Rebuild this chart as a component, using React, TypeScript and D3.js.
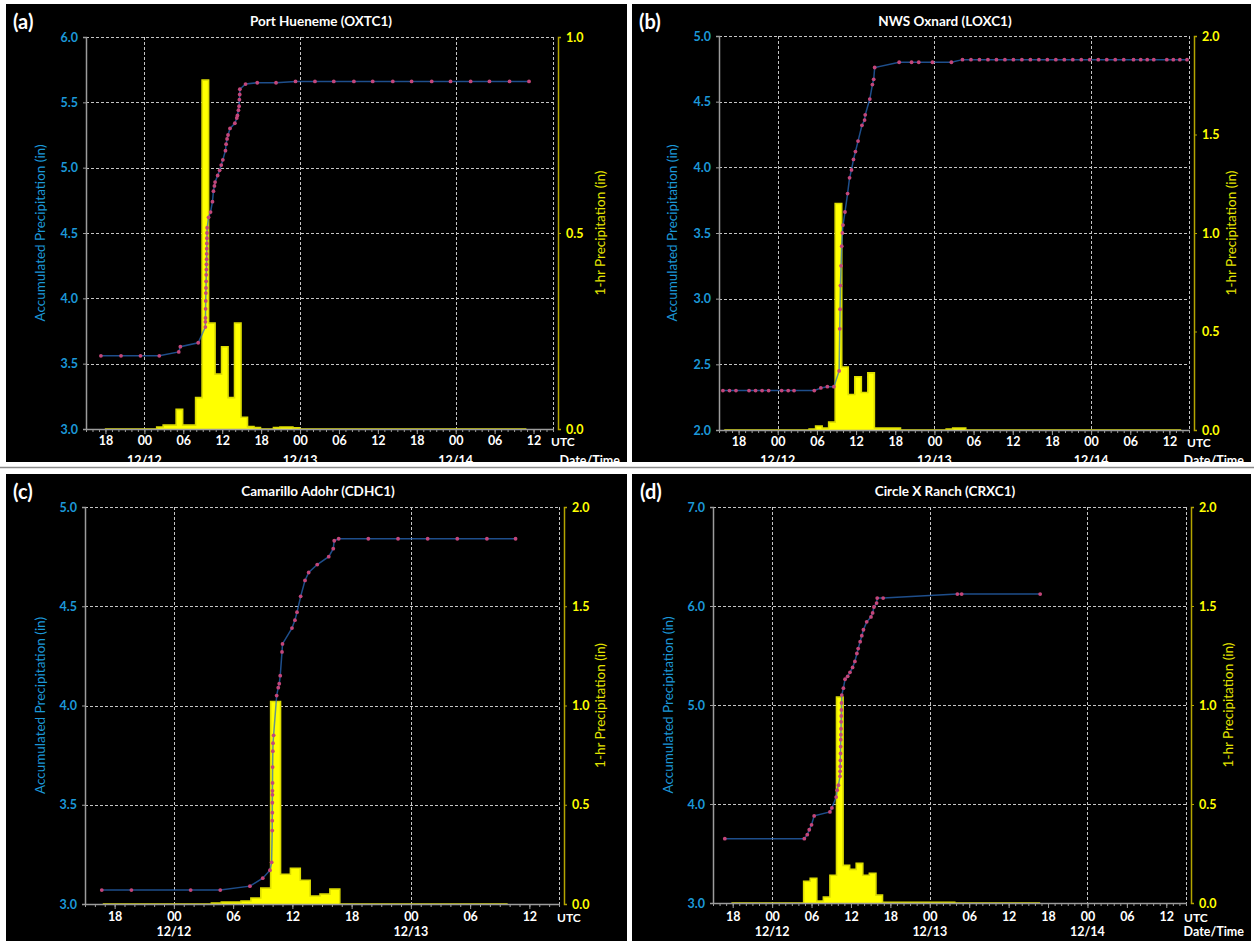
import React, { useEffect, useRef } from 'react';
import * as d3 from 'd3';

const W = 1254;
const H = 943;
const FONT = 'Lato, "Open Sans", sans-serif';
const BLUE = '#1c98d8';
const YELLOW = '#ffff00';

// all times are hours from 12/12 00 UTC
const T0 = Date.UTC(2014, 11, 12, 0, 0);
const at = (h: number) => new Date(T0 + h * 3600 * 1000);

// ---- (a) Port Hueneme (OXTC1)
const oxtcAcc: [number, number][] = [
  [-6.7, 3.56], [-3.6, 3.56], [-0.6, 3.56], [2.3, 3.56], [5.3, 3.59], [5.55, 3.63], [8.3, 3.66],
  [9.4, 3.78], [9.41, 3.82], [9.42, 3.85], [9.44, 3.92], [9.46, 3.98], [9.48, 4.04], [9.5, 4.08],
  [9.52, 4.13], [9.54, 4.18], [9.56, 4.22], [9.58, 4.26], [9.6, 4.3], [9.61, 4.34], [9.62, 4.38],
  [9.64, 4.42], [9.65, 4.46], [9.66, 4.5], [9.68, 4.54], [9.9, 4.62], [10.2, 4.66], [10.5, 4.74],
  [10.65, 4.82], [10.8, 4.86], [10.9, 4.89], [11.3, 4.94], [11.6, 4.98], [11.85, 5.02], [12.1, 5.06],
  [12.5, 5.13], [12.6, 5.18], [12.75, 5.22], [12.9, 5.25], [13.2, 5.3], [13.95, 5.34], [14.25, 5.38],
  [14.35, 5.4], [14.5, 5.44], [14.6, 5.47], [14.65, 5.52], [14.7, 5.56], [14.72, 5.6], [15.6, 5.64],
  [17.4, 5.65], [20.3, 5.65], [23.3, 5.66], [26.3, 5.66], [29.2, 5.66], [32.3, 5.66], [35.2, 5.66],
  [38.3, 5.66], [41.2, 5.66], [44.3, 5.66], [47.2, 5.66], [50.3, 5.66], [53.2, 5.66], [56.3, 5.66],
  [59.3, 5.66],
];
const oxtcHrStart = -6.1;
const oxtcHourly = [
  0, 0, 0, 0, 0, 0, 0, 0,
  0.005, 0.01, 0.01, 0.05, 0.01, 0.01, 0.08, 0.89, 0.27, 0.14, 0.21, 0.08, 0.27, 0.03, 0.006, 0.004,
  0, 0, 0.004, 0.005, 0.005, 0.003,
  0, 0, 0, 0, 0, 0, 0, 0, 0, 0, 0, 0, 0, 0, 0, 0, 0, 0, 0, 0, 0, 0, 0, 0, 0, 0, 0, 0, 0, 0, 0, 0, 0, 0, 0,
];
const oxtcAccTicks = [3.0, 3.5, 4.0, 4.5, 5.0, 5.5, 6.0];
const oxtcHrTicks = [0.0, 0.5, 1.0];

// ---- (b) NWS Oxnard (LOXC1)
const loxcAcc: [number, number][] = [
  [-8.4, 2.3], [-7.4, 2.3], [-6.4, 2.3], [-4.4, 2.3], [-3.4, 2.3], [-2.4, 2.3], [-1.4, 2.3],
  [0.6, 2.3], [1.6, 2.3], [2.5, 2.3], [5.6, 2.3], [6.6, 2.32], [7.6, 2.33], [8.6, 2.33], [9.4, 2.45],
  [9.5, 2.77], [9.55, 2.92], [9.6, 3.1], [9.7, 3.25], [9.8, 3.4], [9.9, 3.5], [10.0, 3.56],
  [10.3, 3.66], [10.7, 3.8], [11.0, 3.92], [11.3, 3.98], [11.6, 4.06], [11.9, 4.12], [12.3, 4.2],
  [12.9, 4.32], [13.3, 4.36], [13.4, 4.4], [14.1, 4.52], [14.5, 4.63], [14.7, 4.67], [14.85, 4.76],
  [18.6, 4.8], [20.5, 4.8], [21.6, 4.8], [23.7, 4.8], [26.6, 4.8], [28.3, 4.82], [29.6, 4.82],
  [30.9, 4.82], [32.2, 4.82], [33.5, 4.82], [34.8, 4.82], [36.1, 4.82], [37.4, 4.82], [38.7, 4.82],
  [40.0, 4.82], [41.3, 4.82], [42.6, 4.82], [43.9, 4.82], [45.2, 4.82], [46.5, 4.82], [47.8, 4.82],
  [49.1, 4.82], [50.4, 4.82], [51.7, 4.82], [53.0, 4.82], [54.5, 4.82], [55.6, 4.82], [56.6, 4.82],
  [57.6, 4.82], [59.6, 4.82], [60.6, 4.82], [61.6, 4.82], [62.7, 4.82],
];
const loxcHrStart = -8.2;
const loxcHourly = [
  0, 0, 0, 0, 0, 0, 0, 0, 0, 0, 0, 0, 0,
  0.005, 0.02, 0.01, 0.04, 1.15, 0.32, 0.18, 0.27, 0.19, 0.29, 0.01, 0.01, 0.01, 0.01,
  0, 0, 0, 0, 0, 0, 0,
  0.005, 0.01, 0.01,
  0, 0, 0, 0, 0, 0, 0, 0, 0, 0, 0, 0, 0, 0, 0, 0, 0, 0, 0, 0, 0, 0, 0, 0, 0, 0, 0, 0, 0, 0, 0, 0, 0,
];
const loxcAccTicks = [2.0, 2.5, 3.0, 3.5, 4.0, 4.5, 5.0];
const loxcHrTicks = [0.0, 0.5, 1.0, 1.5, 2.0];

// ---- (c) Camarillo Adohr (CDHC1)
const cdhcAcc: [number, number][] = [
  [-7.3, 3.07], [-4.3, 3.07], [1.7, 3.07], [4.7, 3.07], [7.7, 3.09], [9.0, 3.13], [9.73, 3.17],
  [9.9, 3.21], [9.96, 3.37], [9.96, 3.42], [9.97, 3.46], [9.97, 3.51], [9.98, 3.55], [9.98, 3.57],
  [9.99, 3.61], [10.0, 3.69], [10.02, 3.77], [10.04, 3.81], [10.1, 3.85], [10.41, 4.05],
  [10.57, 4.09], [10.67, 4.11], [10.77, 4.15], [10.95, 4.27], [11.0, 4.31], [11.96, 4.39],
  [12.26, 4.43], [12.47, 4.47], [12.84, 4.55], [13.28, 4.63], [13.65, 4.67], [14.52, 4.71],
  [15.68, 4.75], [16.14, 4.79], [16.24, 4.83], [16.69, 4.84], [19.69, 4.84], [22.7, 4.84],
  [25.7, 4.84], [28.7, 4.84], [31.7, 4.84], [34.6, 4.84],
];
const cdhcHrStart = -7.2;
const cdhcHourly = [
  0, 0, 0, 0, 0, 0, 0, 0, 0, 0, 0,
  0.005, 0.01, 0.01, 0.015, 0.03, 0.08, 1.02, 0.15, 0.18, 0.12, 0.04, 0.05, 0.075,
  0, 0, 0, 0, 0, 0, 0, 0, 0, 0, 0, 0, 0, 0, 0, 0, 0,
];
const cdhcAccTicks = [3.0, 3.5, 4.0, 4.5, 5.0];
const cdhcHrTicks = [0.0, 0.5, 1.0, 1.5, 2.0];

// ---- (d) Circle X Ranch (CRXC1)
const crxcAcc: [number, number][] = [
  [-7.2, 3.65], [4.9, 3.65], [5.35, 3.69], [5.65, 3.74], [6.0, 3.79], [6.4, 3.88], [8.8, 3.92],
  [9.1, 3.96], [9.75, 4.07], [9.9, 4.14], [10.1, 4.19], [10.33, 4.28], [10.35, 4.33], [10.37, 4.38],
  [10.39, 4.44], [10.41, 4.51], [10.43, 4.58], [10.45, 4.65], [10.47, 4.7], [10.49, 4.76],
  [10.51, 4.83], [10.53, 4.89], [10.55, 4.95], [10.57, 5.02], [10.6, 5.1], [10.85, 5.17],
  [11.1, 5.26], [11.5, 5.29], [11.85, 5.33], [12.25, 5.38], [12.6, 5.44], [12.9, 5.52],
  [13.1, 5.57], [13.4, 5.64], [13.65, 5.7], [13.9, 5.76], [14.4, 5.84], [15.05, 5.89], [15.3, 5.93],
  [15.5, 5.99], [15.9, 6.03], [16.0, 6.08], [16.9, 6.08], [28.2, 6.12], [28.85, 6.12], [40.8, 6.12],
];
const crxcHrStart = -6.2;
const crxcHourly = [
  0, 0, 0, 0, 0, 0, 0, 0, 0, 0, 0,
  0.11, 0.125, 0.01, 0.03, 0.14, 1.04, 0.19, 0.17, 0.2, 0.14, 0.15, 0.04,
  0.003, 0.003, 0.003, 0.003, 0.003, 0.003, 0.003, 0.003, 0.003, 0.003, 0.003,
  0, 0, 0, 0, 0, 0, 0, 0, 0, 0, 0, 0, 0,
];
const crxcAccTicks = [3.0, 4.0, 5.0, 6.0, 7.0];
const crxcHrTicks = [0.0, 0.5, 1.0, 1.5, 2.0];

const panels = [
  {
    letter: '(a)', title: 'Port Hueneme (OXTC1)', acc: oxtcAcc, hrStart: oxtcHrStart, hourly: oxtcHourly,
    accTicks: oxtcAccTicks, hrTicks: oxtcHrTicks, span: [-9, 63],
    box: [6, 4, 621, 458], plot: { l: 86, r: 553, t: 37, b: 429 },
    letterPos: [13, 21], titlePos: [321, 21], leftTitleX: 40, rightTitleX: 600,
    tickY: 440, dateY: 460, dateTime: true,
  },
  {
    letter: '(b)', title: 'NWS Oxnard (LOXC1)', acc: loxcAcc, hrStart: loxcHrStart, hourly: loxcHourly,
    accTicks: loxcAccTicks, hrTicks: loxcHrTicks, span: [-9, 63],
    box: [632, 4, 619, 458], plot: { l: 719, r: 1189, t: 36, b: 430 },
    letterPos: [639, 21], titlePos: [945, 21], leftTitleX: 672, rightTitleX: 1231,
    tickY: 441, dateY: 460, dateTime: true,
  },
  {
    letter: '(c)', title: 'Camarillo Adohr (CDHC1)', acc: cdhcAcc, hrStart: cdhcHrStart, hourly: cdhcHourly,
    accTicks: cdhcAccTicks, hrTicks: cdhcHrTicks, span: [-9, 39],
    box: [6, 474, 621, 467], plot: { l: 85, r: 559, t: 507, b: 904 },
    letterPos: [13, 491], titlePos: [318, 491], leftTitleX: 40, rightTitleX: 600,
    tickY: 916, dateY: 931, dateTime: false,
  },
  {
    letter: '(d)', title: 'Circle X Ranch (CRXC1)', acc: crxcAcc, hrStart: crxcHrStart, hourly: crxcHourly,
    accTicks: crxcAccTicks, hrTicks: crxcHrTicks, span: [-9, 63],
    box: [632, 474, 619, 467], plot: { l: 713, r: 1186, t: 507, b: 903 },
    letterPos: [640, 491], titlePos: [945, 491], leftTitleX: 668, rightTitleX: 1228,
    tickY: 916, dateY: 931, dateTime: true,
  },
];

function styleText(sel: any, fill: string, size: number, bold = true) {
  sel
    .attr('fill', fill)
    .style('font-family', FONT)
    .style('font-size', `${size}px`)
    .style('font-weight', bold ? 'bold' : 'normal');
}

function drawPanel(svg: any, p: any) {
  const { l, r, t, b } = p.plot;
  const g = svg.append('g');
  g.append('rect')
    .attr('x', p.box[0]).attr('y', p.box[1])
    .attr('width', p.box[2]).attr('height', p.box[3])
    .attr('fill', '#000');

  const x = d3.scaleUtc().domain([at(p.span[0]), at(p.span[1])]).range([l, r]);
  const yA = d3.scaleLinear().domain([p.accTicks[0], p.accTicks[p.accTicks.length - 1]]).range([b, t]);
  const yH = d3.scaleLinear().domain([p.hrTicks[0], p.hrTicks[p.hrTicks.length - 1]]).range([b, t]);
  const days = x.ticks(d3.utcDay.every(1));

  // dashed grid
  const grid = g.append('g')
    .attr('stroke', '#c4c4c4').attr('stroke-width', 1).attr('stroke-dasharray', '3,2').attr('fill', 'none');
  grid.selectAll('line.h').data(p.accTicks.slice(1)).join('line')
    .attr('class', 'h')
    .attr('x1', l).attr('x2', r)
    .attr('y1', (d: number) => Math.round(yA(d)) + 0.5).attr('y2', (d: number) => Math.round(yA(d)) + 0.5);
  grid.selectAll('line.v').data([...days.map((d) => x(d)), r]).join('line')
    .attr('class', 'v')
    .attr('x1', (d: number) => Math.round(d) + 0.5).attr('x2', (d: number) => Math.round(d) + 0.5)
    .attr('y1', t).attr('y2', b);

  // 1-hr precipitation as a step fill
  const steps: [number, number][] = p.hourly.map((v: number, i: number) => [p.hrStart + i, v]);
  steps.push([p.hrStart + p.hourly.length, p.hourly[p.hourly.length - 1]]);
  const area = d3.area<[number, number]>()
    .x((d) => x(at(d[0])))
    .y0(b)
    .y1((d) => yH(d[1]))
    .curve(d3.curveStepAfter);
  g.append('path').datum(steps).attr('d', area).attr('fill', YELLOW);
  const stepLine = d3.line<[number, number]>()
    .x((d) => x(at(d[0])))
    .y((d) => yH(d[1]))
    .curve(d3.curveStepAfter);
  g.append('path').datum(steps).attr('d', stepLine)
    .attr('fill', 'none').attr('stroke', '#dcdc00').attr('stroke-width', 1.6);

  // axes
  const axL = g.append('g').attr('transform', `translate(${l},0)`)
    .call(d3.axisLeft(yA).tickValues(p.accTicks).tickFormat(d3.format('.1f')).tickSize(3).tickPadding(5));
  axL.select('.domain').attr('stroke', '#9c9c9c').attr('stroke-width', 1.5);
  axL.selectAll('.tick line').attr('stroke', '#9c9c9c');
  styleText(axL.selectAll('text'), BLUE, 12.5);

  const axR = g.append('g').attr('transform', `translate(${r + 5},0)`)
    .call(d3.axisRight(yH).tickValues(p.hrTicks).tickFormat(d3.format('.1f')).tickSize(3).tickPadding(5));
  axR.select('.domain').attr('stroke', '#b4a500').attr('stroke-width', 1.5);
  axR.selectAll('.tick line').attr('stroke', '#b4a500');
  styleText(axR.selectAll('text'), YELLOW, 12.5);

  const axMinor = g.append('g').attr('transform', `translate(0,${b})`)
    .call(d3.axisBottom(x).ticks(d3.utcHour.every(1)).tickSize(3).tickSizeOuter(0).tickFormat(() => ''));
  axMinor.select('.domain').attr('stroke', '#9c9c9c').attr('stroke-width', 1.5);
  axMinor.selectAll('.tick line').attr('stroke', '#9c9c9c');

  const pad = p.tickY - b - 4.3 - 5;
  const axMajor = g.append('g').attr('transform', `translate(0,${b})`)
    .call(d3.axisBottom(x).ticks(d3.utcHour.every(6)).tickSize(5).tickPadding(pad).tickFormat(d3.utcFormat('%H')));
  axMajor.select('.domain').remove();
  axMajor.selectAll('.tick line').attr('stroke', '#9c9c9c');
  styleText(axMajor.selectAll('text'), '#fff', 12.5);

  const dates = g.selectAll('text.date').data(days).join('text')
    .attr('class', 'date')
    .attr('x', (d: Date) => x(d)).attr('y', p.dateY)
    .attr('text-anchor', 'middle').attr('dominant-baseline', 'central')
    .text((d: Date) => d3.utcFormat('%m/%d')(d));
  styleText(dates, '#fff', 12.5);

  styleText(
    g.append('text').attr('x', r - 2).attr('y', p.tickY + 1.5).attr('dominant-baseline', 'central').text('UTC'),
    '#fff', 12,
  );
  if (p.dateTime) {
    styleText(
      g.append('text').attr('x', p.box[0] + p.box[2] - 7).attr('y', p.dateY)
        .attr('text-anchor', 'end').attr('dominant-baseline', 'central').text('Date/Time'),
      '#fff', 12.5,
    );
  }

  // axis titles
  const cy = (t + b) / 2;
  styleText(
    g.append('text').attr('transform', `translate(${p.leftTitleX},${cy}) rotate(-90)`)
      .attr('text-anchor', 'middle').attr('dominant-baseline', 'central')
      .text('Accumulated Precipitation (in)'),
    BLUE, 13.5, false,
  );
  styleText(
    g.append('text').attr('transform', `translate(${p.rightTitleX},${cy}) rotate(-90)`)
      .attr('text-anchor', 'middle').attr('dominant-baseline', 'central')
      .text('1-hr Precipitation (in)'),
    '#e4e400', 13.5, false,
  );

  // accumulated precipitation
  const line = d3.line<[number, number]>()
    .x((d) => x(at(d[0])))
    .y((d) => yA(d[1]));
  g.append('path').datum(p.acc).attr('d', line)
    .attr('fill', 'none').attr('stroke', '#2a6cc0').attr('stroke-opacity', 0.72).attr('stroke-width', 1.5);
  g.selectAll('circle.pt').data(p.acc).join('circle')
    .attr('class', 'pt')
    .attr('cx', (d: [number, number]) => x(at(d[0])))
    .attr('cy', (d: [number, number]) => yA(d[1]))
    .attr('r', 1.9)
    .attr('fill', '#c4467a');

  // title and panel letter
  styleText(
    g.append('text').attr('x', p.titlePos[0]).attr('y', p.titlePos[1])
      .attr('text-anchor', 'middle').attr('dominant-baseline', 'central').text(p.title),
    '#fff', 13.5,
  );
  styleText(
    g.append('text').attr('x', p.letterPos[0]).attr('y', p.letterPos[1])
      .attr('dominant-baseline', 'central').text(p.letter),
    '#fff', 20,
  );
}

export default function App() {
  const ref = useRef<SVGSVGElement>(null);

  useEffect(() => {
    document.body.style.margin = '0';
    const svg = d3.select(ref.current);
    svg.selectAll('*').remove();
    svg.append('rect').attr('width', W).attr('height', H).attr('fill', '#fff');
    svg.append('line')
      .attr('x1', 0).attr('x2', W).attr('y1', 467.5).attr('y2', 467.5)
      .attr('stroke', '#8a8a8a').attr('stroke-width', 1.5);
    panels.forEach((p) => drawPanel(svg, p));
  }, []);

  return <svg ref={ref} width={W} height={H} style={{ display: 'block' }} />;
}
